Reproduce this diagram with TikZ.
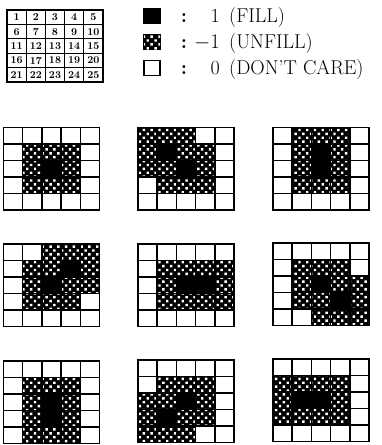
\documentclass[tikz,border=0pt]{standalone}
\usetikzlibrary{patterns.meta}
\tikzset{
  fillcell/.style={fill=black},
  unfillcell/.style={fill=black, postaction={pattern={Dots[distance=5.5pt, angle=45, radius=1.7pt]}, pattern color=white}},
  gridline/.style={line width=1.5pt, line cap=rect},
  numlabel/.style={font=\fontsize{10.5}{12}\selectfont\bfseries, inner sep=0pt},
  legtext/.style={font=\fontsize{20}{22}\selectfont, inner sep=0pt, anchor=base west},
  legnum/.style={font=\fontsize{20}{22}\selectfont, inner sep=0pt, anchor=base east},
  legcolon/.style={font=\fontsize{20}{22}\selectfont\bfseries, inner sep=0pt, anchor=base},
  legbox/.style={draw=black, line width=1.3pt, minimum width=16pt, minimum height=15pt, inner sep=0pt},
}
\newcommand\pgrid[3]{%
  \foreach \v [count=\i from 0] in {#3}{%
    \pgfmathtruncatemacro\cc{mod(\i,5)}%
    \pgfmathtruncatemacro\rr{div(\i,5)}%
    \ifnum\v=1
      \fill[fillcell] ({#1+\cc*19.2},{#2+\rr*16.5}) rectangle ++(19.2,16.5);
    \else\ifnum\v<0
      \fill[unfillcell] ({#1+\cc*19.2},{#2+\rr*16.5}) rectangle ++(19.2,16.5);
    \fi\fi
  }%
  \foreach \k in {0,...,5}{%
    \draw[gridline] ({#1+\k*19.2},#2) -- ++(0,82.5);
    \draw[gridline] (#1,{#2+\k*16.5}) -- ++(96,0);
  }%
}
\begin{document}
\begin{tikzpicture}[x=1pt,y=-1pt]
\useasboundingbox (0,0) rectangle (381,445);
% numbered grid
\foreach \k in {0,...,5}{%
  \draw[gridline, line width=1.3pt] ({7+\k*19.2},10) -- ++(0,72);
  \draw[gridline, line width=1.3pt] (7,{10+\k*14.4}) -- ++(96,0);
}
\foreach \n in {1,...,25}{%
  \pgfmathtruncatemacro\cc{mod(\n-1,5)}%
  \pgfmathtruncatemacro\rr{div(\n-1,5)}%
  \node[numlabel] (n\n) at ({7+\cc*19.2+9.6},{10+\rr*14.4+7.4}) {\n};
}
% legend
\node[legbox, fill=black] (lb1) at (152,16) {};
\node[legbox, unfillcell] (lb2) at (152,42) {};
\node[legbox] (lb3) at (152,68) {};
\node[legcolon] (c1) at (184,22) {:};
\node[legcolon] (c2) at (184,48) {:};
\node[legcolon] (c3) at (184,74) {:};
\node[legnum] (v1) at (220,22) {1};
\node[legnum] (v2) at (220,48) {$-1$};
\node[legnum] (v3) at (220,74) {0};
\node[legtext] (t1) at (229,22) {(FILL)};
\node[legtext] (t2) at (229,48) {(UNFILL)};
\node[legtext] (t3) at (229,74) {(DON'T CARE)};
% nine grids
\pgrid{3.5}{127.5}{0,0,0,0,0, 0,-1,-1,-1,0, 0,-1,1,-1,0, 0,-1,-1,-1,0, 0,0,0,0,0}
\pgrid{138}{127.5}{-1,-1,-1,0,0, -1,1,-1,-1,0, -1,-1,1,-1,0, 0,-1,-1,-1,0, 0,0,0,0,0}
\pgrid{273}{127.5}{0,-1,-1,-1,0, 0,-1,1,-1,0, 0,-1,1,-1,0, 0,-1,-1,-1,0, 0,0,0,0,0}
\pgrid{3.5}{244}{0,0,-1,-1,-1, 0,-1,-1,1,-1, 0,-1,1,-1,-1, 0,-1,-1,-1,0, 0,0,0,0,0}
\pgrid{138}{244}{0,0,0,0,0, 0,-1,-1,-1,-1, 0,-1,1,1,-1, 0,-1,-1,-1,-1, 0,0,0,0,0}
\pgrid{273}{243}{0,0,0,0,0, 0,-1,-1,-1,0, 0,-1,1,-1,-1, 0,-1,-1,1,-1, 0,0,-1,-1,-1}
\pgrid{3.5}{361}{0,0,0,0,0, 0,-1,-1,-1,0, 0,-1,1,-1,0, 0,-1,1,-1,0, 0,-1,-1,-1,0}
\pgrid{138}{360}{0,0,0,0,0, 0,-1,-1,-1,0, -1,-1,1,-1,0, -1,1,-1,-1,0, -1,-1,-1,0,0}
\pgrid{273}{359}{0,0,0,0,0, -1,-1,-1,-1,0, -1,1,1,-1,0, -1,-1,-1,-1,0, 0,0,0,0,0}
\end{tikzpicture}
\end{document}
